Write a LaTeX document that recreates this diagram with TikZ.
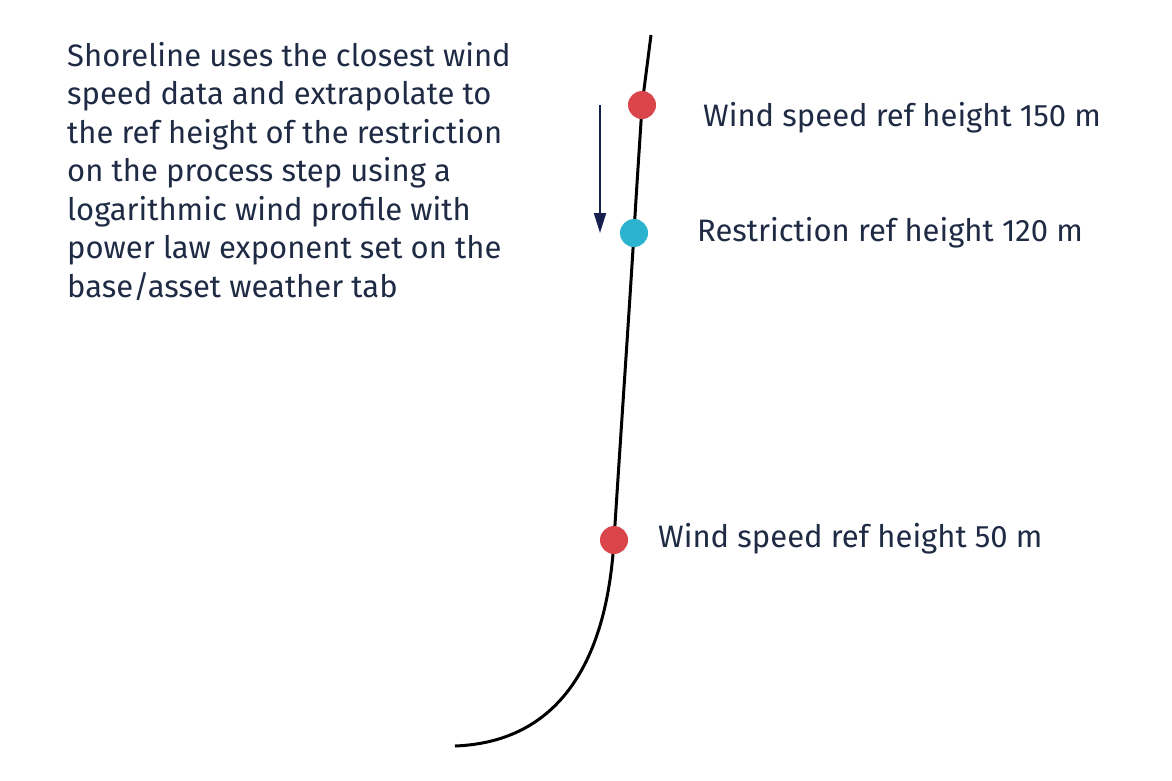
\documentclass[tikz,border=0pt]{standalone}
\usepackage{fontspec}
\setmainfont{Fira Sans}
\usetikzlibrary{arrows.meta}
\definecolor{txt}{HTML}{1F2A44}
\definecolor{dotred}{HTML}{D9454A}
\definecolor{dotcyan}{HTML}{2BB3CF}
\definecolor{navy}{HTML}{14214F}
\tikzset{x=1pt,y=-1pt,
 dot/.style={circle,inner sep=0pt,minimum size=28pt},
 lbl/.style={anchor=west,font=\fontsize{31}{36}\selectfont,text=txt,inner sep=0pt}}
\begin{document}
\begin{tikzpicture}
\useasboundingbox (0,0) rectangle (1172,780);
\node[anchor=north west,align=left,text=txt,inner sep=0pt,font=\fontsize{31}{38.5}\selectfont] (desc) at (67,42) {Shoreline uses the closest wind\\speed data and extrapolate to\\the ref height of the restriction\\on the process step using a\\logarithmic wind profile with\\power law exponent set on the\\base/asset weather tab};
\coordinate (c0) at (455,746);
\coordinate (c1) at (614,540);
\coordinate (c2) at (634,233);
\coordinate (c3) at (642,105);
\coordinate (c4) at (651,35);
\draw[line width=3pt] (c0) .. controls (560,742) and (607,660) .. (c1)
  .. controls (621,430) and (628,330) .. (c2)
  .. controls (637,180) and (640,140) .. (c3) -- (c4);
\node[dot,fill=dotred] (d1) at (c3) {};
\node[dot,fill=dotcyan] (d2) at (c2) {};
\node[dot,fill=dotred] (d3) at (c1) {};
\node[lbl] (l1) at (703,118) {Wind speed ref height 150 m};
\node[lbl] (l2) at (697,233) {Restriction ref height 120 m};
\node[lbl] (l3) at (658,539) {Wind speed ref height 50 m};
\coordinate (a0) at (600,105);
\coordinate (a1) at (600,233);
\draw[navy,line width=2pt,-{Triangle[length=20pt,width=12pt]}] (a0) -- (a1);
\end{tikzpicture}
\end{document}
